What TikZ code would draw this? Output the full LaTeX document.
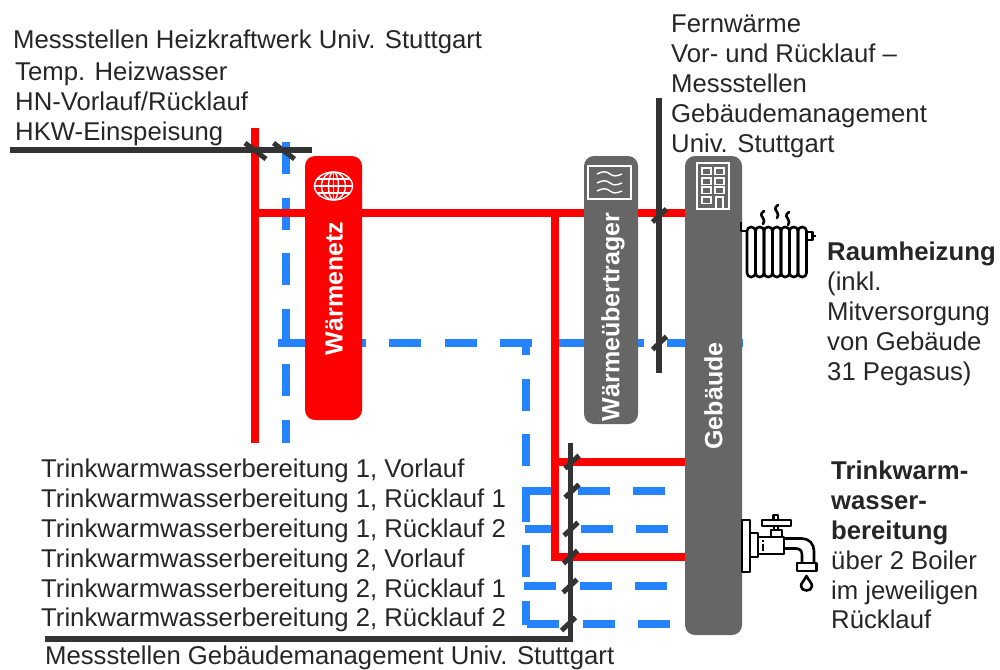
\documentclass[tikz,border=0pt]{standalone}
\usepackage{fontspec}
\setmainfont{Liberation Sans}
\usetikzlibrary{positioning}
\definecolor{netzred}{RGB}{255, 0, 0}
\definecolor{ruecklauf}{RGB}{38, 131, 255}
\definecolor{messink}{RGB}{51, 51, 51}
\definecolor{boxgray}{RGB}{102, 102, 102}
\definecolor{textink}{RGB}{38, 38, 38}

\begin{document}
\begin{tikzpicture}[
    x=1pt, y=-1pt,
    vorlauf/.style={draw=netzred, line width=8.2pt},
    rueck/.style={draw=ruecklauf, line width=8.2pt, dash pattern=on 32pt off 23.6pt},
    messline/.style={draw=messink, line width=5.4pt},
    tick/.style={draw=messink, line width=5pt},
    unit/.style={draw=none, rounded corners=10pt, inner sep=0pt},
    unitlabel/.style={text=white, inner sep=0pt, rotate=90,
      font=\bfseries\fontsize{25}{28}\selectfont},
    lbl/.style={text=textink, inner sep=0pt, anchor=north west, align=left,
      font=\fontsize{25.7}{29.8}\selectfont},
    iconw/.style={draw=white, line width=1.4pt},
    iconk/.style={draw=black, line width=2.6pt, line join=round},
  ]
  \useasboundingbox (0,0) rectangle (1000,669);

  % junctions
  \coordinate (redTop) at (255,128);
  \coordinate (redBot) at (255,443);
  \coordinate (redJoinL) at (255,213);
  \coordinate (redJoinM) at (555,213);
  \coordinate (redTwo) at (555,462);
  \coordinate (redThree) at (555,557);
  \coordinate (blueTop) at (286,142);
  \coordinate (blueBot) at (286,443);
  \coordinate (blueRow) at (278,343);
  \coordinate (blueEnd) at (743,343);
  \coordinate (blueCorner) at (526,343);
  \coordinate (blueLow) at (526,625);

  % return lines
  \draw[rueck] (blueTop) -- (blueBot);
  \draw[rueck] (blueRow) -- (blueEnd);
  \draw[rueck, dash phase=20pt] (blueCorner) -- (blueLow);
  \foreach \xs/\ys/\xe in {522/491/666, 525/529/669, 524/586/668, 527/624/672}
    \draw[rueck] (\xs,\ys) -- (\xe,\ys);

  % units
  \node[unit, fill=netzred, minimum width=57pt, minimum height=264pt] (netzBox) at (333.5,288) {};
  \node[unit, fill=boxgray, minimum width=54pt, minimum height=268pt] (wueBox) at (611,290) {};
  \node[unit, fill=boxgray, minimum width=57pt, minimum height=479pt] (gebBox) at (713.5,395.5) {};

  % flow lines
  \draw[vorlauf] (redTop) -- (redBot);
  \draw[vorlauf] (redJoinL) -- (netzBox.west |- redJoinL);
  \draw[vorlauf] (netzBox.east |- redJoinM) -- (wueBox.west |- redJoinM);
  \draw[vorlauf] (wueBox.east |- redJoinM) -- (gebBox.west |- redJoinM);
  \draw[vorlauf] (redJoinM) -- (555,561);
  \draw[vorlauf] (redTwo) -- (gebBox.west |- redTwo);
  \draw[vorlauf] (redThree) -- (gebBox.west |- redThree);

  \node[unitlabel] (netzText) at (334,288.5) {Wärmenetz};
  \node[unitlabel] (wueText) at (613,317) {Wärmeübertrager};
  \node[unitlabel] (gebText) at (713.5,396) {Gebäude};

  % measuring lines
  \coordinate (hkwLeft) at (10,150);
  \coordinate (hkwRight) at (312,150);
  \coordinate (fernTop) at (659,98);
  \coordinate (fernBot) at (659,373);
  \coordinate (gmTop) at (570.5,443);
  \coordinate (gmCorner) at (570.5,639);
  \coordinate (gmLeft) at (45,639);
  \draw[messline] (hkwLeft) -- (hkwRight);
  \draw[messline] (fernTop) -- (fernBot);
  \draw[messline] (gmLeft) -- (gmCorner);
  \draw[messline] (gmTop) -- (570.5,642);
  \foreach \x in {255.5,284}
    \draw[tick] (\x-10.5,143) -- (\x+10.5,159);
  \foreach \x/\y in {659.5/215.5, 659.5/343, 572/462, 572/491, 571/529, 570.5/557, 570/586, 568.5/624}
    \draw[tick] (\x-7,\y+6.5) -- (\x+7,\y-6.5);

  % globe
  \begin{scope}[iconw]
    \draw (333.5,186) ellipse (19 and 14);
    \draw (333.5,186) ellipse (12 and 14);
    \draw (333.5,186) ellipse (5 and 14);
    \draw (333.5,172) -- (333.5,200);
    \draw (315,186) -- (352,186);
    \draw (317,179) -- (350,179);
    \draw (317,193) -- (350,193);
  \end{scope}

  % exchanger
  \draw[iconw] (588,166) rectangle (631,199);
  \foreach \y in {174,183,191}
    \draw[iconw] (597,\y) .. controls (603,\y-3) and (606,\y-3) .. (610,\y) .. controls (614,\y+3) and (617,\y+2) .. (622,\y);

  % building
  \draw[iconw] (697,163) rectangle (729,209);
  \foreach \y in {168,178,187,197}
    \draw[iconw] (702,\y) rectangle (711,\y+6.5);
  \foreach \y in {168,178,187}
    \draw[iconw] (715,\y) rectangle (724,\y+6.5);
  \draw[iconw] (716,209) -- (716,197) -- (723,197) -- (723,209);

  % radiator
  \draw[iconk] (741,222) -- (741,231) -- (747,231);
  \foreach \i in {0,...,6}
    \draw[iconk, rounded corners=4pt] (747+\i*8.5,227) rectangle (755.5+\i*8.5,277);
  \draw[iconk] (806.5,232) -- (812.5,232) -- (812.5,240) -- (806.5,240);
  \draw[iconk] (812.5,236) -- (816,236);
  \foreach \x/\t in {763/211, 777/205, 788/212}
    \draw[iconk, line cap=round] (\x+1,\t) .. controls (\x-3,\t+3) and (\x-2,\t+4) .. (\x,\t+7) .. controls (\x+2,\t+9) and (\x+1,\t+11) .. (\x,\t+13);

  % tap
  \draw[iconk] (742,520) rectangle (750,572);
  \draw[iconk] (750,533) rectangle (758,557);
  \draw[iconk] (758,537) rectangle (784,554);
  \draw[iconk] (762,520) rectangle (791,526);
  \draw[iconk] (773.5,515) rectangle (778,520);
  \draw[iconk] (774,526) -- (774,530);
  \draw[iconk] (778,526) -- (778,530);
  \draw[iconk] (771,536) -- (771,530) -- (782,530) -- (782,537);
  \draw[iconk] (784,538.5) -- (802,538.5) .. controls (809,538.5) and (814,544) .. (814,551) -- (814,563);
  \draw[iconk] (784,548.5) -- (796,548.5) .. controls (800,548.5) and (802,551) .. (802,555) -- (802,563);
  \draw[iconk] (797,563) rectangle (816.5,571);
  \draw[black, line width=1.2pt] (763,540) -- (763,541.5) (763,544) -- (763,551);
  \draw[iconk] (806.5,576) .. controls (804,581) and (801,583) .. (801,586) .. controls (801,592) and (812,592) .. (812,586) .. controls (812,583) and (809,581) .. (806.5,576) -- cycle;

  % texts
  \node[lbl] (hkwTitle) at (13,30) {Messstellen Heizkraftwerk Univ. Stuttgart};
  \node[lbl] (hkwList) at (15,62) {Temp. Heizwasser\\HN-Vorlauf/Rücklauf\\HKW-Einspeisung};
  \node[lbl] (fernList) at (671,15) {Fernwärme\\Vor- und Rücklauf –\\Messstellen\\Gebäudemanagement\\Univ. Stuttgart};
  \node[lbl] (raumList) at (827,242) {\textbf{Raumheizung}\\(inkl.\\Mitversorgung\\von Gebäude\\31 Pegasus)};
  \node[lbl] (twwRows) at (41,459) {Trinkwarmwasserbereitung 1, Vorlauf\\Trinkwarmwasserbereitung 1, Rücklauf 1\\Trinkwarmwasserbereitung 1, Rücklauf 2\\Trinkwarmwasserbereitung 2, Vorlauf\\Trinkwarmwasserbereitung 2, Rücklauf 1\\Trinkwarmwasserbereitung 2, Rücklauf 2};
  \node[lbl] (gmTitle) at (45,646) {Messstellen Gebäudemanagement Univ. Stuttgart};
  \node[lbl] (twwList) at (831,461) {\textbf{Trinkwarm-}\\\textbf{wasser-}\\\textbf{bereitung}\\über 2 Boiler\\im jeweiligen\\Rücklauf};
\end{tikzpicture}
\end{document}
